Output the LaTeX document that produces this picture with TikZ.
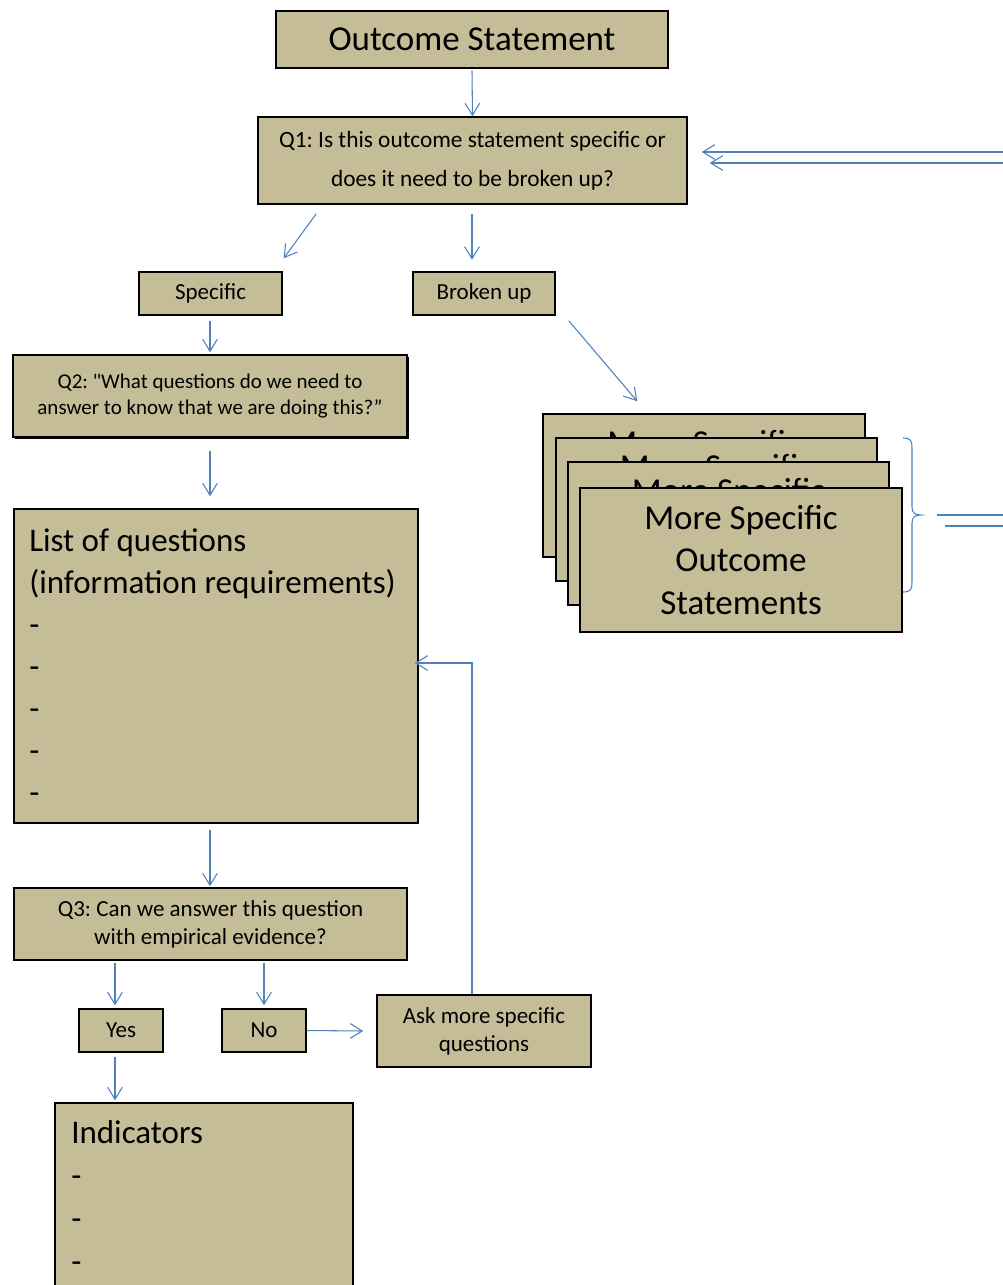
\documentclass[tikz,border=0pt]{standalone}
\usepackage{fontspec}
\setmainfont{Carlito}
\newfontfamily\plainq{Carlito}[Mapping=none]
\usetikzlibrary{arrows.meta,calc}
\definecolor{tanfill}{HTML}{C4BD97}
\definecolor{arrblue}{HTML}{4F81BD}
\frenchspacing
\begin{document}
\begin{tikzpicture}[x=0.75pt,y=-0.75pt,
 box/.style={draw=black,line width=1.1pt,fill=tanfill,inner sep=0pt,align=center,text=black},
 big/.style={font=\fontsize{26.25}{31.9}\selectfont},
 mid/.style={font=\fontsize{17.25}{21}\selectfont},
 arr/.style={draw=arrblue,line width=0.8pt,-{Straight Barb[length=9pt,width=11pt]}},
 blueline/.style={draw=arrblue,line width=0.8pt}]
\clip (0,0) rectangle (1003,1285);
\fill[white] (0,0) rectangle (1003,1285);

% top
\node[box,big,minimum width=392*0.75pt,minimum height=57*0.75pt] (outcome) at (472,39.5) {Outcome Statement};
\node[box,font=\fontsize{17.5}{29.25}\selectfont,minimum width=429*0.75pt,minimum height=87*0.75pt] (q1) at (472.5,160.5) {Q1: Is this outcome statement specific or\\does it need to be broken up?};
\node[box,mid,minimum width=143*0.75pt,minimum height=43*0.75pt] (specific) at (210.5,293.5) {Specific};
\node[box,mid,minimum width=142*0.75pt,minimum height=43*0.75pt] (broken) at (484,293.5) {Broken up};

% Q2 with thin shadow
\fill[black] (15,357) rectangle (409,439);
\node[box,font=\fontsize{15.75}{19.5}\selectfont,minimum width=394*0.75pt,minimum height=82*0.75pt,text depth=3pt] (q2) at (210,396) {Q2: {\plainq "}What questions do we need to\\answer to know that we are doing this?”};

% list
\node[box,minimum width=404*0.75pt,minimum height=314*0.75pt] (list) at (216,666) {};
\node[anchor=north west,inner sep=0pt,align=left,font=\fontsize{24.75}{31.5}\selectfont] (listtxt) at (29,528) {List of questions\\(information requirements)\\-\\-\\-\\-\\-};

% Q3 and answers
\node[box,font=\fontsize{17.25}{21}\selectfont,minimum width=393*0.75pt,minimum height=72*0.75pt] (q3) at (210.5,924) {Q3: Can we answer this question\\with empirical evidence?};
\node[box,mid,minimum width=84*0.75pt,minimum height=43*0.75pt] (yes) at (121,1030.5) {Yes};
\node[box,mid,minimum width=84*0.75pt,minimum height=43*0.75pt] (no) at (264,1030.5) {No};
\node[box,font=\fontsize{17.25}{21}\selectfont,minimum width=214*0.75pt,minimum height=72*0.75pt] (ask) at (484,1031) {Ask more specific\\questions};

% indicators
\node[box,minimum width=298*0.75pt,minimum height=197*0.75pt] (ind) at (204,1201.5) {};
\node[anchor=north west,inner sep=0pt,align=left,font=\fontsize{24.75}{32.25}\selectfont] (indtxt) at (71,1120) {Indicators\\-\\-\\-};

% stack of more specific outcome statements
\node[box,big,minimum width=322*0.75pt,minimum height=143*0.75pt] (ms1) at (704,485.5) {More Specific\\Outcome\\Statements};
\node[box,big,minimum width=321*0.75pt,minimum height=143*0.75pt] (ms2) at (716.5,509.5) {More Specific\\Outcome\\Statements};
\node[box,big,minimum width=321*0.75pt,minimum height=143*0.75pt] (ms3) at (728.5,533.5) {More Specific\\Outcome\\Statements};
\node[box,big,minimum width=322*0.75pt,minimum height=144*0.75pt] (ms4) at (741,560) {More Specific\\Outcome\\Statements};

% connectors
\draw[arr] ($(outcome.south)+(0,2)$) -- (q1.north);
\draw[arr] ($(q1.south west)+(59,9)$) -- ($(specific.north east)+(1,-13)$);
\draw[arr] ($(q1.south)+(-0.5,9)$) -- ($(q1.south)+(-0.5,55)$);
\draw[arr] ($(specific.south)+(-0.5,5)$) -- ($(q2.north)+(0,-2)$);
\draw[arr] ($(broken.south east)+(13,5)$) -- ($(ms1.north west)+(95,-12)$);
\draw[arr] ($(q2.south)+(0,13)$) -- ($(list.north -| q2.south)+(0,-12)$);
\draw[arr] ($(list.south -| q3.north)+(-0.5,6)$) -- ($(q3.north)+(-0.5,-1)$);
\draw[arr] ($(q3.south -| yes.north)+(-6,2)$) -- ($(yes.north)+(-6,-3)$);
\draw[arr] ($(q3.south -| no.north)+(0,2)$) -- ($(no.north)+(0,-3)$);
\draw[arr] (no.east) -- ($(ask.west)+(-13,0)$);
\draw[arr] ($(yes.south)+(-6,4)$) -- ($(ind.north -| yes.south)+(-6,-2)$);
\draw[arr] ($(ask.north)+(-12,0)$) |- ($(list.east)+(-4,-3)$);

% brace
\draw[blueline] (903,438) .. controls (911,438) and (912,441) .. (912,448) -- (912,507)
  .. controls (912,513) and (915,515) .. (921,515)
  .. controls (915,515) and (912,517) .. (912,523) -- (912,582)
  .. controls (912,589) and (911,592) .. (903,592);

% lines leaving to the right
\coordinate (b1) at (937,515);
\coordinate (b1e) at (1003,515);
\coordinate (b2) at (945,526);
\coordinate (b2e) at (1003,526);
\draw[blueline] (b1) -- (b1e);
\draw[blueline] (b2) -- (b2e);
\coordinate (r1) at (1003,152);
\coordinate (r2) at (1003,163);
\draw[arr] (r1) -- ($(q1.east |- r1)+(14,0)$);
\draw[arr] (r2) -- ($(q1.east |- r2)+(22,0)$);
\end{tikzpicture}
\end{document}
